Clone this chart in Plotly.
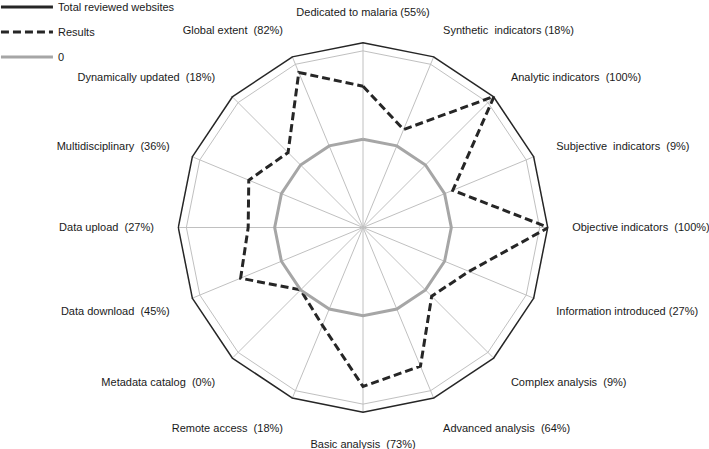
import plotly.graph_objects as go

NB = "\u00a0"
categories = [
    "Dedicated to malaria (55%)",
    f"Synthetic{NB} indicators (18%)",
    f"Analytic indicators{NB} (100%)",
    f"Subjective{NB} indicators{NB} (9%)",
    f"Objective indicators{NB} (100%)",
    "Information introduced (27%)",
    f"Complex analysis{NB} (9%)",
    f"Advanced analysis{NB} (64%)",
    f"Basic analysis{NB} (73%)",
    f"Remote access{NB} (18%)",
    f"Metadata catalog{NB} (0%)",
    f"Data download{NB} (45%)",
    f"Data upload{NB} (27%)",
    f"Multidisciplinary{NB} (36%)",
    f"Dynamically updated{NB} (18%)",
    f"Global extent{NB} (82%)",
]
total_websites = [11] * 16
results = [6, 2, 11, 1, 11, 3, 1, 7, 8, 2, 0, 5, 3, 4, 2, 9]
zero_line = [0] * 16

def closed(v):
    return list(v) + [v[0]]

theta = closed(categories)

fig = go.Figure()
fig.add_trace(go.Scatterpolar(r=closed(total_websites), theta=theta, mode="lines",
                              name="Total reviewed websites", legendgroup="a",
                              line=dict(color="#262626", width=3)))
fig.add_trace(go.Scatterpolar(r=closed(results), theta=theta, mode="lines",
                              name="Results", legendgroup="b",
                              line=dict(color="#262626", width=3, dash="8px,4px")))
fig.add_trace(go.Scatterpolar(r=closed(zero_line), theta=theta, mode="lines",
                              name="0", legendgroup="c",
                              line=dict(color="#a6a6a6", width=3)))

fig.update_layout(
    width=709, height=449,
    margin=dict(l=0, r=0, t=0, b=0, autoexpand=False),
    paper_bgcolor="white",
    font=dict(family="Liberation Sans, Arial, sans-serif", size=11, color="#1a1a1a"),
    showlegend=True,
    legend=dict(x=-0.0057, y=1.0166, xanchor="left", yanchor="top", itemwidth=52,
                tracegroupgap=6, font=dict(size=11), bgcolor="rgba(0,0,0,0)"),
    polar=dict(
        domain=dict(x=[0.2504, 0.7736], y=[0.0802, 0.9065]),
        bgcolor="white",
        gridshape="linear",
        radialaxis=dict(range=[-10, 11], tickvals=[-10, 0, 10], showticklabels=False,
                        showline=False, ticks="", gridcolor="#c0c0c0", gridwidth=1),
        angularaxis=dict(direction="clockwise", rotation=90, showline=False,
                         gridcolor="#c0c0c0", gridwidth=1, ticks="outside",
                         ticklen=21, tickcolor="rgba(0,0,0,0)",
                         tickfont=dict(size=11, color="#1a1a1a")),
    ),
)

fig.write_html("out.html", config={"displayModeBar": False},
               post_script="document.body.style.margin='0';")
